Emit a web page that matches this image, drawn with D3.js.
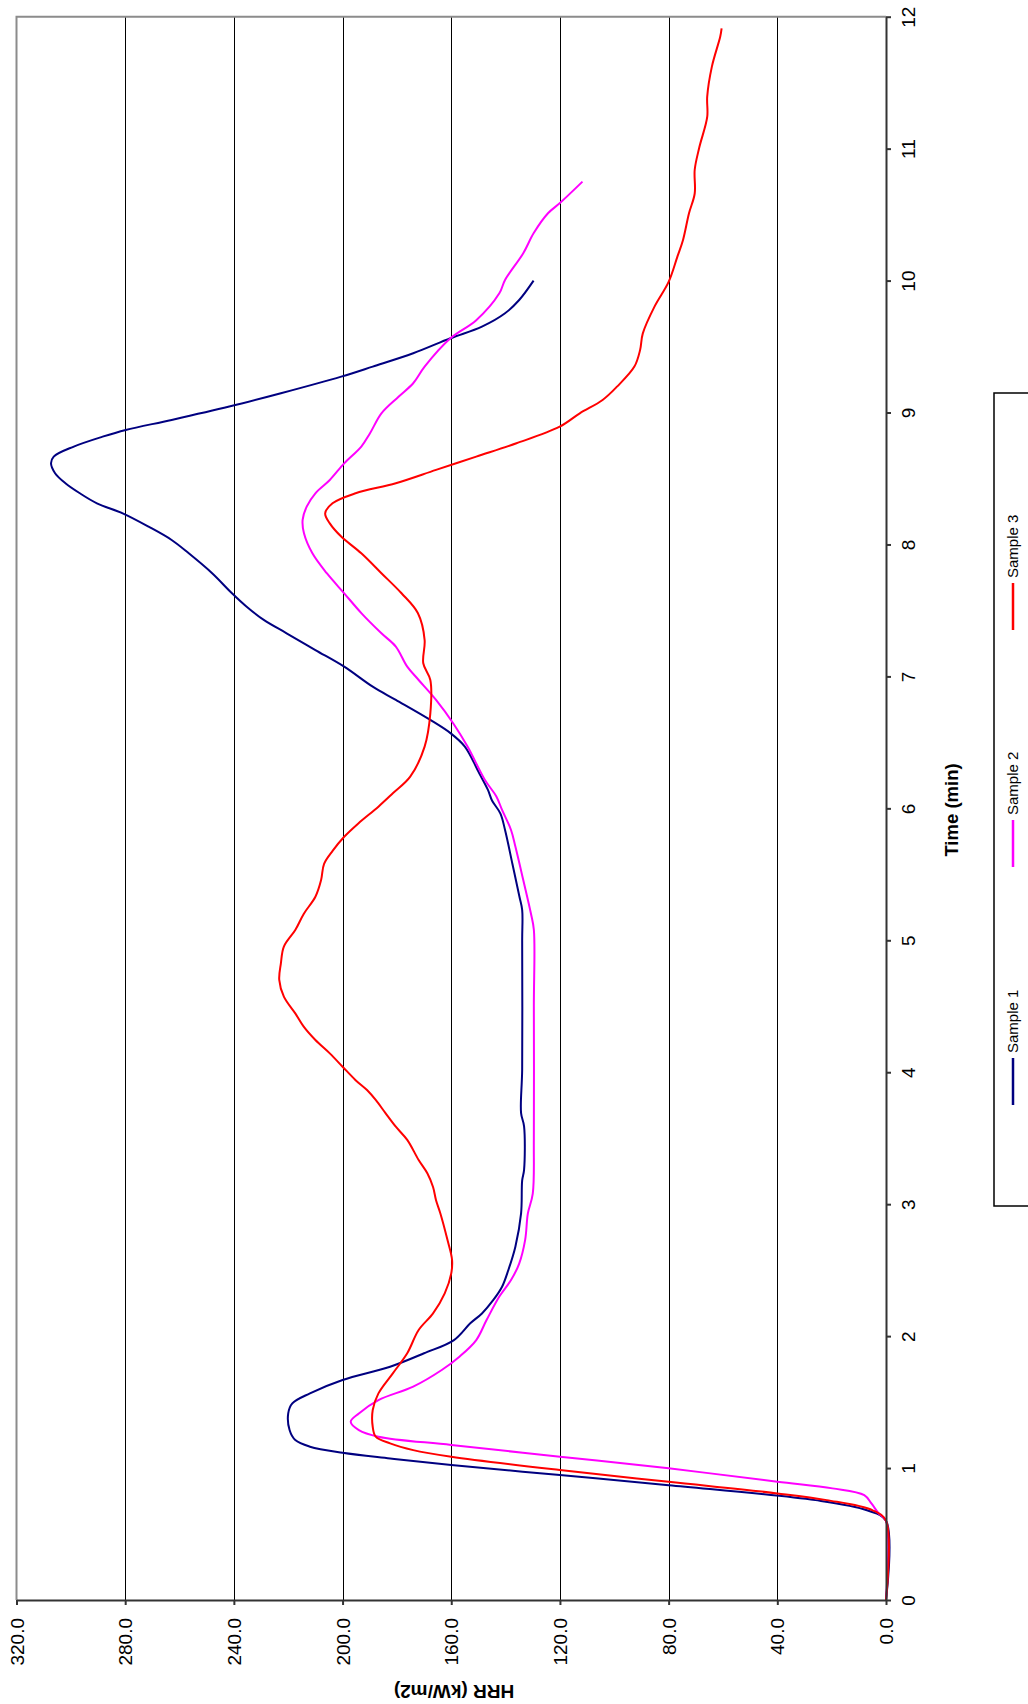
<!DOCTYPE html>
<html lang="en">
<head>
  <meta charset="UTF-8">
  <title>HRR vs Time (rotated chart)</title>
  <script src="https://d3js.org/d3.v7.min.js"></script>
  <style>
    body { margin: 0; background: #fff; }
    text { font-family: Arial, "Liberation Sans", sans-serif; fill: #000; }
    .grid line { stroke: #000; stroke-width: 1px; shape-rendering: crispEdges; }
    .axis path, .axis line { stroke: #333; stroke-width: 2px; }
    .series { fill: none; stroke-width: 2px; stroke-linejoin: round; }
  </style>
</head>
<body>
  <script>
    // series values: time (min) and HRR (kW/m2)
    const sample1Time = [0, 0.6, 0.68, 0.757, 0.87, 0.947, 1.023, 1.073, 1.116, 1.162, 1.212, 1.288, 1.414, 1.49, 1.566, 1.667, 1.768, 1.87, 1.97, 2.097, 2.172, 2.274, 2.374, 2.5, 2.678, 2.93, 3.18, 3.26, 3.59, 3.69, 4.02, 5.0, 5.23, 5.33, 5.58, 5.836, 5.96, 6.06, 6.14, 6.266, 6.468, 6.57, 6.67, 6.822, 6.922, 7.074, 7.2, 7.327, 7.428, 7.53, 7.63, 7.782, 7.933, 8.034, 8.135, 8.236, 8.312, 8.388, 8.464, 8.54, 8.615, 8.666, 8.742, 8.817, 8.868, 8.944, 9.045, 9.146, 9.272, 9.348, 9.449, 9.563, 9.651, 9.752, 9.853, 10.0];
    const sample1HRR = [0, 0, 7, 26, 80, 120, 160, 182.5, 200, 212, 217.4, 219.5, 220, 218.5, 212, 200, 182.5, 170, 159, 153, 148.7, 144.5, 141.3, 139, 136.4, 134.3, 133.9, 133.2, 133.2, 134.3, 133.9, 133.9, 133.9, 134.9, 137.5, 140.2, 141.9, 145, 146.5, 149.7, 155, 160.3, 167.7, 180.4, 188.9, 199.4, 210, 220.6, 229, 235.4, 240.7, 248, 256.6, 262.9, 271.4, 280.9, 290.4, 296.7, 302, 305.8, 307.3, 306.3, 298.9, 288.3, 279.8, 262.9, 241.7, 222.7, 200.5, 188.9, 174, 160.3, 148.7, 140.2, 135, 129.7];

    const sample2Time = [0, 0.6, 0.657, 0.73, 0.795, 0.846, 0.896, 0.998, 1.086, 1.175, 1.238, 1.288, 1.351, 1.414, 1.515, 1.617, 1.743, 1.844, 1.97, 2.122, 2.3, 2.425, 2.55, 2.73, 2.93, 3.08, 3.5, 4.5, 5.08, 5.205, 5.457, 5.71, 5.836, 5.988, 6.09, 6.215, 6.468, 6.645, 6.822, 6.973, 7.074, 7.226, 7.327, 7.48, 7.63, 7.782, 7.933, 8.085, 8.186, 8.287, 8.388, 8.489, 8.615, 8.742, 8.843, 8.994, 9.12, 9.222, 9.348, 9.563, 9.7, 9.904, 10.005, 10.207, 10.358, 10.51, 10.586, 10.75];
    const sample2HRR = [0, 0, 2.7, 5.3, 8, 19.7, 40, 80, 120, 160, 186.8, 194, 197, 194, 186.8, 174, 163.5, 157, 150.8, 147, 142.3, 138, 135, 132.8, 131.8, 130, 129.6, 129.6, 129.6, 130.7, 133.5, 136.4, 138, 141.3, 143.4, 147.6, 154, 159.3, 165.6, 172, 176.2, 180.4, 185.7, 193.1, 199.4, 205.8, 211.1, 214.2, 214.7, 213.2, 210, 204.7, 199.4, 193.1, 189.9, 185.7, 179.4, 174, 169.8, 160.3, 150.8, 142.3, 140.2, 133.5, 129.7, 124.4, 120.1, 111.7];

    const sample3Time = [0, 0.6, 0.68, 0.757, 0.808, 0.896, 0.985, 1.086, 1.136, 1.187, 1.238, 1.313, 1.44, 1.566, 1.718, 1.87, 2.046, 2.172, 2.324, 2.476, 2.577, 2.73, 2.93, 3.03, 3.13, 3.234, 3.335, 3.487, 3.587, 3.69, 3.79, 3.865, 3.94, 4.042, 4.143, 4.244, 4.345, 4.446, 4.573, 4.7, 4.825, 4.952, 5.078, 5.2, 5.33, 5.457, 5.58, 5.68, 5.785, 5.886, 6.013, 6.114, 6.24, 6.468, 6.72, 6.973, 7.1, 7.276, 7.48, 7.63, 7.782, 7.933, 8.06, 8.16, 8.236, 8.312, 8.388, 8.464, 8.565, 8.666, 8.767, 8.893, 8.994, 9.095, 9.196, 9.348, 9.474, 9.6, 9.803, 9.99, 10.18, 10.308, 10.51, 10.66, 10.84, 11.01, 11.24, 11.394, 11.62, 11.85, 11.912];
    const sample3HRR = [0, 0, 4.9, 21.8, 40, 80, 120, 160, 174, 182.5, 187.8, 188.9, 188.9, 186.8, 181.5, 176.2, 172, 166.7, 162.4, 160, 159.7, 161.4, 164, 165.6, 166.7, 168.8, 172, 176.2, 180.4, 184.2, 187.8, 191, 195.2, 200, 204.7, 210, 214.3, 217.4, 221.6, 223.3, 222.7, 221.6, 217.4, 214.3, 210, 207.9, 206.8, 203.6, 199.4, 194.2, 186.8, 181.5, 175.1, 169.8, 167.7, 167.7, 170.3, 169.8, 172.3, 178.3, 185.7, 193.1, 200.5, 204.7, 206.4, 203.7, 195.2, 180.4, 165.6, 150.8, 136, 120.1, 112.7, 104.3, 99, 92.6, 90.5, 89.5, 85.2, 80, 76.8, 74.7, 72.5, 70.4, 70.4, 68.7, 65.8, 65.8, 64.1, 61, 60.5];

    const seriesNames = ["Sample 1", "Sample 2", "Sample 3"];
    const seriesColors = ["#000080", "#FF00FF", "#FF0000"];
    const timeTicks = d3.range(0, 13);
    const hrrTicks = [0, 40, 80, 120, 160, 200, 240, 280, 320];

    const width = 1028, height = 1704;
    const plotLeft = 16.5, plotRight = 886, plotTop = 16.7, plotBottom = 1600;

    const svg = d3.select("body").append("svg")
      .attr("width", width)
      .attr("height", height);

    // chart is turned on its side: time runs bottom -> top, HRR runs right -> left
    const t = d3.scaleLinear().domain([0, 12]).range([plotBottom, plotTop]);
    const h = d3.scaleLinear().domain([0, 320]).range([plotRight, plotLeft]);

    // gridlines for HRR
    svg.append("g").attr("class", "grid")
      .selectAll("line")
      .data(hrrTicks.slice(1, -1))
      .join("line")
      .attr("x1", d => Math.round(h(d)) + 0.5).attr("x2", d => Math.round(h(d)) + 0.5)
      .attr("y1", plotTop).attr("y2", plotBottom);

    // plot frame (top & left in grey)
    svg.append("path")
      .attr("d", `M${plotLeft},${plotBottom}V${plotTop}H${plotRight}`)
      .attr("fill", "none").attr("stroke", "#8c8c8c").attr("stroke-width", 2);

    // series
    const sets = [
      [sample1Time, sample1HRR],
      [sample2Time, sample2HRR],
      [sample3Time, sample3HRR]
    ];
    const line = d3.line()
      .x(d => h(d[1]))
      .y(d => t(d[0]))
      .curve(d3.curveCatmullRom.alpha(0.5));

    sets.forEach(([tt, vv], i) => {
      svg.append("path")
        .attr("class", "series")
        .attr("stroke", seriesColors[i])
        .attr("d", line(tt.map((d, j) => [d, vv[j]])));
    });

    // HRR axis along the bottom
    const hrrAxis = svg.append("g").attr("class", "axis")
      .attr("transform", `translate(0,${plotBottom})`)
      .call(d3.axisBottom(h).tickValues(hrrTicks).tickFormat(d3.format(".1f")).tickSizeInner(5).tickSizeOuter(0));
    hrrAxis.selectAll("text")
      .attr("transform", "rotate(-90)")
      .attr("x", -18).attr("y", 0).attr("dy", "0.35em")
      .style("text-anchor", "end")
      .style("font-size", "19px");

    // time axis along the right side
    const timeAxis = svg.append("g").attr("class", "axis")
      .attr("transform", `translate(${plotRight},0)`)
      .call(d3.axisRight(t).tickValues(timeTicks).tickFormat(d3.format("d")).tickSizeInner(5).tickSizeOuter(0));
    timeAxis.selectAll("text")
      .attr("transform", "rotate(-90)")
      .attr("x", 0).attr("y", 22).attr("dy", "0.35em")
      .style("text-anchor", "middle")
      .style("font-size", "19px");

    // axis titles
    svg.append("text")
      .attr("transform", "translate(454,1692) rotate(180)")
      .attr("text-anchor", "middle").attr("dy", "0.35em")
      .style("font-size", "19px").style("font-weight", "bold")
      .text("HRR (kW/m2)");

    svg.append("text")
      .attr("transform", "translate(952,810) rotate(-90)")
      .attr("text-anchor", "middle").attr("dy", "0.35em")
      .style("font-size", "18.5px").style("font-weight", "bold")
      .text("Time (min)");

    // legend (runs off the right edge)
    const legend = svg.append("g");
    legend.append("rect")
      .attr("x", 994).attr("y", 393).attr("width", 60).attr("height", 813)
      .attr("fill", "#fff").attr("stroke", "#000").attr("stroke-width", 1.5);

    const legendStart = [1105, 867, 630]; // bottom end of each marker, Sample 1..3
    seriesNames.forEach((name, i) => {
      const y0 = legendStart[i];
      legend.append("line")
        .attr("x1", 1013).attr("x2", 1013)
        .attr("y1", y0).attr("y2", y0 - 47)
        .attr("stroke", seriesColors[i]).attr("stroke-width", 2.5);
      legend.append("text")
        .attr("transform", `translate(1013,${y0 - 52}) rotate(-90)`)
        .attr("dy", "0.35em")
        .style("font-size", "15px")
        .text(name);
    });
  </script>
</body>
</html>
